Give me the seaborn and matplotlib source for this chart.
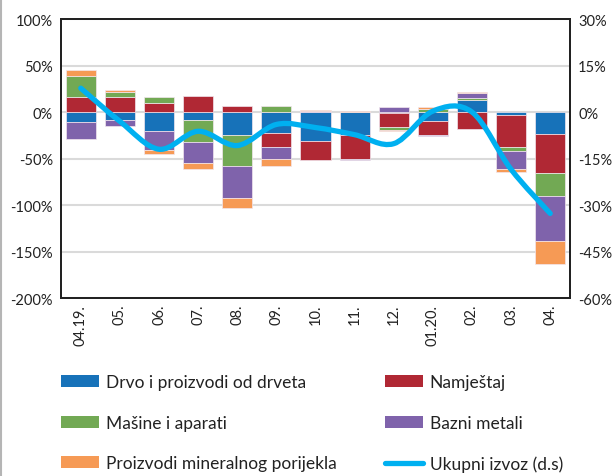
import numpy as np
import matplotlib.pyplot as plt
import seaborn as sns
from matplotlib.path import Path
from matplotlib.patches import PathPatch, Patch
from matplotlib.lines import Line2D

# Podaci (doprinosi u %, procjena sa slike)
mjeseci = ['04.19.', '05.', '06.', '07.', '08.', '09.', '10.', '11.', '12.', '01.20.', '02.', '03.', '04.']
drvo = [-11, -9, -20, -9, -25, -22, -31, -25, -1.5, -10, 13, -3, -24]
namjestaj = [16, 16, 10, 17, 7, -16, -21, -26, -15, -15, -18, -35, -42]
masine = [23, 6, 6, -23, -33, 7, 0, 0, -2.5, 3, 2.5, -4, -24]
bazni_metali = [-18, -6, -21, -23, -34, -12.5, 1, -0.5, 5, -1, 5, -19, -49]
mineralni = [6, 2, -4.5, -6, -11, -7, 1.5, 1, -1.5, 2.5, 1.5, -3.5, -24]
ukupni_izvoz = [7.7, -3, -12, -6.2, -10.8, -4, -5, -7.3, -10.2, 0.3, 0, -18.5, -32.7]

serije = [
    ('Drvo i proizvodi od drveta', drvo, '#1772b9'),
    ('Namještaj', namjestaj, '#b02834'),
    ('Mašine i aparati', masine, '#72a954'),
    ('Bazni metali', bazni_metali, '#7f63ab'),
    ('Proizvodi mineralnog porijekla', mineralni, '#f69a55'),
]
boja_linije = '#00b0f0'

sns.set_theme(style='white')
plt.rcParams['font.family'] = ['Lato', 'DejaVu Sans']

fig = plt.figure(figsize=(6.12, 4.77), dpi=100)
ax = fig.add_axes([0.1, 0.373, 0.831, 0.585])

# Naslagani stupci: pozitivni i negativni dijelovi odvojeno
pos = np.zeros(len(mjeseci))
neg = np.zeros(len(mjeseci))
for naziv, vrijednosti, boja in serije:
    v = np.array(vrijednosti, dtype=float)
    dno = np.where(v >= 0, pos, neg)
    sns.barplot(x=mjeseci, y=v, bottom=dno, color=boja, width=0.77, saturation=1,
                errorbar=None, edgecolor='#f2e6ee', linewidth=0.5, ax=ax)
    pos = pos + np.clip(v, 0, None)
    neg = neg + np.clip(v, None, 0)

ax.set_ylim(-200, 100)
ax.set_yticks(range(-200, 101, 50))
ax.set_yticklabels([f'{t}%' for t in range(-200, 101, 50)])
ax.set_xlim(-0.5, len(mjeseci) - 0.5)
ax.yaxis.grid(True, color='#dadada', linewidth=1.5)
ax.set_axisbelow(True)
ax.tick_params(axis='x', labelrotation=90, length=0, pad=4, labelsize=10.5, colors='#222222')
ax.tick_params(axis='y', length=0, pad=6, labelsize=10.5, colors='#222222')
ax.set_xlabel('')
ax.set_ylabel('')

# Ukupni izvoz na desnoj osi, zaglađena linija
ax2 = ax.twinx()
ax2.set_ylim(-60, 30)
ax2.set_yticks(range(-60, 31, 15))
ax2.set_yticklabels([f'{t}%' for t in range(-60, 31, 15)])
ax2.tick_params(axis='y', length=0, pad=6, labelsize=10.5, colors='#222222')
ax2.grid(False)

xs = np.arange(len(mjeseci), dtype=float)
ys = np.array(ukupni_izvoz, dtype=float)
n = len(xs)
verts = [(xs[0], ys[0])]
codes = [Path.MOVETO]
for i in range(n - 1):
    a, b = max(i - 1, 0), min(i + 2, n - 1)
    c1 = (xs[i] + (xs[i + 1] - xs[a]) / 6, ys[i] + (ys[i + 1] - ys[a]) / 6)
    c2 = (xs[i + 1] - (xs[b] - xs[i]) / 6, ys[i + 1] - (ys[b] - ys[i]) / 6)
    verts += [c1, c2, (xs[i + 1], ys[i + 1])]
    codes += [Path.CURVE4] * 3
ax2.add_patch(PathPatch(Path(verts, codes), fill=False, edgecolor=boja_linije,
                        linewidth=3.8, capstyle='round', joinstyle='round'))

for a_ in (ax, ax2):
    for s in a_.spines.values():
        s.set_color('#222222')
        s.set_linewidth(1.4)

# Legenda ispod grafikona
h = {naziv: Patch(facecolor=boja, edgecolor='none') for naziv, _, boja in serije}
linija = Line2D([], [], color=boja_linije, linewidth=3.8, solid_capstyle='round')
handles = [h['Drvo i proizvodi od drveta'], h['Mašine i aparati'], h['Proizvodi mineralnog porijekla'],
           h['Namještaj'], h['Bazni metali'], linija]
labels = ['Drvo i proizvodi od drveta', 'Mašine i aparati', 'Proizvodi mineralnog porijekla',
          'Namještaj', 'Bazni metali', 'Ukupni izvoz (d.s)']
fig.legend(handles, labels, loc='upper left', bbox_to_anchor=(61 / 612, 1 - 375 / 477), ncol=2,
           frameon=False, fontsize=12.5, handlelength=2.2, handleheight=0.7, handletextpad=0.4,
           columnspacing=2.75, labelspacing=1.42, borderpad=0, borderaxespad=0, labelcolor='#222222')

fig.add_artist(Line2D([0.002, 0.002], [0, 1], color='#b5b5b5', linewidth=1.5, transform=fig.transFigure))

fig.savefig('out.png', dpi=100)
